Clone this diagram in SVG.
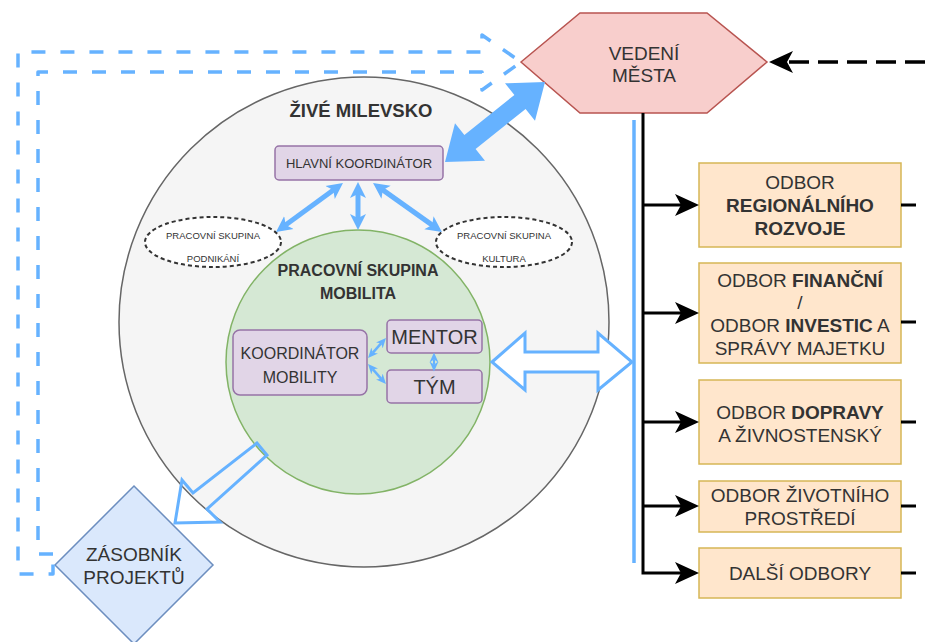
<svg xmlns="http://www.w3.org/2000/svg" width="925" height="642" viewBox="0 0 925 642">
<defs>
<style>
text { font-family: "Liberation Sans", Arial, sans-serif; fill: #333333; text-anchor: middle; }
.b { font-weight: bold; }
.odbor rect { fill: #ffe6cc; stroke: #d6b656; stroke-width: 1.5; }
.odbor text { font-size: 19px; }
.purple { fill: #e1d5e7; stroke: #9673a6; stroke-width: 1.5; }
.blk { stroke: #000; stroke-width: 3; fill: none; }
.bl { stroke: #66b2ff; fill: none; }
</style>
<marker id="ab" markerUnits="userSpaceOnUse" markerWidth="26" markerHeight="24" viewBox="0 0 26 24" refX="10" refY="12" orient="auto">
<path d="M1,1 L25,12 L1,23 L7,12 z" fill="#000"/>
</marker>
<marker id="bh" markerUnits="userSpaceOnUse" markerWidth="18" markerHeight="18" viewBox="0 0 18 18" refX="5" refY="9" orient="auto-start-reverse">
<path d="M0,1 L16,9 L0,17 L4,9 z" fill="#66b2ff"/>
</marker>
<marker id="bs" markerUnits="userSpaceOnUse" markerWidth="10" markerHeight="10" viewBox="0 0 10 10" refX="3" refY="5" orient="auto-start-reverse">
<path d="M0,0.5 L10,5 L0,9.5 L3,5 z" fill="#66b2ff"/>
</marker>
</defs>
<rect width="925" height="642" fill="#ffffff"/>

<g id="zive-milevsko">
<circle cx="364" cy="322" r="245" fill="#f5f5f5" stroke="#666666" stroke-width="1.5"/>
<text x="361" y="117" class="b" style="font-size:18.5px">ŽIVÉ MILEVSKO</text>
</g>

<g id="skupina-mobilita">
<circle cx="358" cy="362" r="132" fill="#d5e8d4" stroke="#82b366" stroke-width="1.5"/>
<text x="358" y="276" class="b" style="font-size:16px">PRACOVNÍ SKUPINA</text>
<text x="358" y="299" class="b" style="font-size:16px">MOBILITA</text>
</g>

<g id="hlavni-koordinator">
<rect x="275" y="146" width="168" height="34" rx="4" class="purple"/>
<text x="359" y="167.5" style="font-size:13px">HLAVNÍ KOORDINÁTOR</text>
</g>

<g id="skupina-podnikani">
<ellipse cx="213" cy="242" rx="68" ry="25" fill="#ffffff" stroke="#333333" stroke-width="2" stroke-dasharray="4 3"/>
<text x="213" y="238.5" style="font-size:9.5px">PRACOVNÍ SKUPINA</text>
<text x="213" y="261.5" style="font-size:9.5px">PODNIKÁNÍ</text>
</g>

<g id="skupina-kultura">
<ellipse cx="504" cy="242" rx="68" ry="25" fill="#ffffff" stroke="#333333" stroke-width="2" stroke-dasharray="4 3"/>
<text x="504" y="238.5" style="font-size:9.5px">PRACOVNÍ SKUPINA</text>
<text x="504" y="261.5" style="font-size:9.5px">KULTURA</text>
</g>

<g id="koordinator-mobility">
<rect x="233" y="330" width="134" height="65" rx="7" class="purple"/>
<text x="300" y="359" style="font-size:16px">KOORDINÁTOR</text>
<text x="300" y="383" style="font-size:16px">MOBILITY</text>
</g>

<g id="mentor">
<rect x="387" y="320" width="95" height="33" rx="4" class="purple"/>
<text x="434.5" y="344" style="font-size:20px">MENTOR</text>
</g>

<g id="tym">
<rect x="387" y="370" width="95" height="33" rx="4" class="purple"/>
<text x="434.5" y="394" style="font-size:20px">TÝM</text>
</g>

<g id="zasobnik-projektu">
<polygon points="55,565 134,486 213,565 134,644" fill="#dae8fc" stroke="#6c8ebf" stroke-width="1.5"/>
<text x="134" y="561" style="font-size:19px">ZÁSOBNÍK</text>
<text x="134" y="584" style="font-size:19px">PROJEKTŮ</text>
</g>

<g id="vedeni-mesta">
<polygon points="521,62 580,13 707,13 767,62 707,113 580,113" fill="#f8cecc" stroke="#b85450" stroke-width="1.5"/>
<text x="644" y="60" style="font-size:19px">VEDENÍ</text>
<text x="644" y="82" style="font-size:19px">MĚSTA</text>
</g>

<g id="odbor-regionalniho" class="odbor">
<rect x="699" y="163" width="202" height="84"/>
<text x="800" y="189">ODBOR</text>
<text x="800" y="212" class="b">REGIONÁLNÍHO</text>
<text x="800" y="235" class="b">ROZVOJE</text>
</g>

<g id="odbor-financni" class="odbor">
<rect x="699" y="263" width="202" height="100"/>
<text x="800" y="287">ODBOR <tspan class="b">FINANČNÍ</tspan></text>
<text x="800" y="309">/</text>
<text x="800" y="332">ODBOR <tspan class="b">INVESTIC</tspan> A</text>
<text x="800" y="355">SPRÁVY MAJETKU</text>
</g>

<g id="odbor-dopravy" class="odbor">
<rect x="699" y="380" width="202" height="84"/>
<text x="800" y="419">ODBOR <tspan class="b">DOPRAVY</tspan></text>
<text x="800" y="442">A ŽIVNOSTENSKÝ</text>
</g>

<g id="odbor-zivotniho" class="odbor">
<rect x="699" y="481" width="202" height="51"/>
<text x="800" y="502">ODBOR ŽIVOTNÍHO</text>
<text x="800" y="525">PROSTŘEDÍ</text>
</g>

<g id="dalsi-odbory" class="odbor">
<rect x="699" y="548" width="202" height="50"/>
<text x="800" y="580">DALŠÍ ODBORY</text>
</g>

<g id="connectors">
<!-- dashed hollow arrow from Zásobník to Vedení -->
<path d="M53,554 L38,554 L38,72 L482,72 L482,90 L521,62 L482,35 L482,52 L18,52 L18,574 L53,574 Z" fill="none" stroke="#66b2ff" stroke-width="3.5" stroke-dasharray="14 15" stroke-linejoin="round"/>
<!-- big double arrow HK <-> Vedení -->
<polygon points="445,162 485,160.7 475.6,149 525.6,109 535,120.7 545,82 505,83.3 514.4,95 464.4,135 455,123.3" fill="#66b2ff"/>
<!-- HK to groups -->
<line x1="334.1" y1="189.5" x2="284.9" y2="225.5" class="bl" stroke-width="5" marker-start="url(#bh)" marker-end="url(#bh)"/>
<line x1="358" y1="193" x2="358" y2="219" class="bl" stroke-width="5" marker-start="url(#bh)" marker-end="url(#bh)"/>
<line x1="382" y1="189.4" x2="433" y2="225.6" class="bl" stroke-width="5" marker-start="url(#bh)" marker-end="url(#bh)"/>
<!-- KM to Mentor / Tym -->
<line x1="372.7" y1="352.8" x2="381.3" y2="343.2" class="bl" stroke-width="2.5" marker-start="url(#bs)" marker-end="url(#bs)"/>
<line x1="372.7" y1="369.2" x2="381.3" y2="378.8" class="bl" stroke-width="2.5" marker-start="url(#bs)" marker-end="url(#bs)"/>
<line x1="434" y1="359.5" x2="434" y2="364.5" class="bl" stroke-width="2" marker-start="url(#bs)" marker-end="url(#bs)"/>
<!-- hollow double arrow mobility <-> odbory -->
<polygon points="492,362 525,333 525,352 598,352 598,333 632,362 598,390 598,372 525,372 525,390" fill="#ffffff" stroke="#66b2ff" stroke-width="3" stroke-linejoin="miter"/>
<!-- hollow arrow mobility -> zásobník -->
<polygon points="257,443 193,493 182,480 175,523 220,522 207,509 267,455" fill="none" stroke="#66b2ff" stroke-width="3"/>
<!-- blue vertical line -->
<line x1="634" y1="120" x2="634" y2="563" stroke="#66b2ff" stroke-width="3.5"/>
<!-- black tree -->
<path d="M643,113 L643,573 L684,573" class="blk" stroke-width="3.5" marker-end="url(#ab)"/>
<line x1="643" y1="205" x2="684" y2="205" class="blk" marker-end="url(#ab)"/>
<line x1="643" y1="313" x2="684" y2="313" class="blk" marker-end="url(#ab)"/>
<line x1="643" y1="422" x2="684" y2="422" class="blk" marker-end="url(#ab)"/>
<line x1="643" y1="506" x2="684" y2="506" class="blk" marker-end="url(#ab)"/>
<!-- stubs -->
<line x1="901" y1="205" x2="916" y2="205" class="blk"/>
<line x1="901" y1="322" x2="916" y2="322" class="blk"/>
<line x1="901" y1="422" x2="916" y2="422" class="blk"/>
<line x1="901" y1="506" x2="916" y2="506" class="blk"/>
<line x1="901" y1="573" x2="916" y2="573" class="blk"/>
<!-- dashed arrow into Vedení -->
<line x1="925" y1="62" x2="784" y2="62" stroke="#000" stroke-width="3.5" stroke-dasharray="20 9" marker-end="url(#ab)"/>
</g>
</svg>
